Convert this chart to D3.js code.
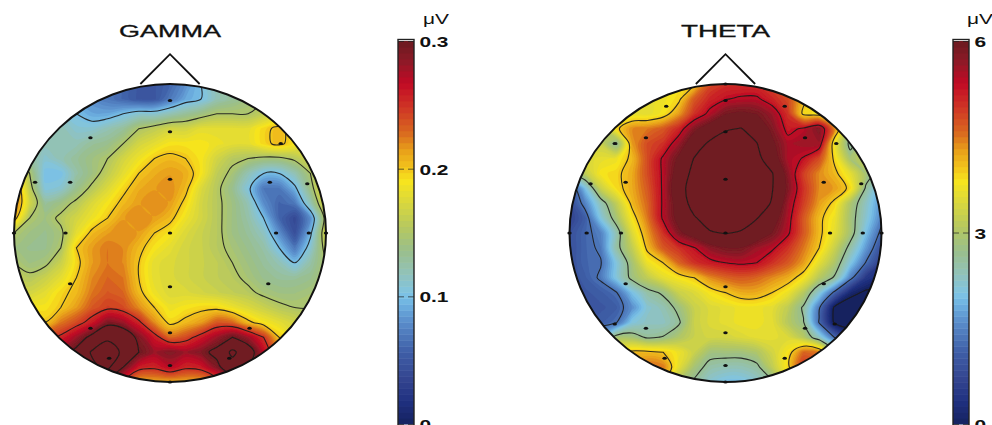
<!DOCTYPE html>
<html lang="en">

<head>
    <title>Gamma and theta topographies</title>
    <meta charset="UTF-8">
    <script src="https://cdn.jsdelivr.net/npm/d3@7"></script>
    <style>
        html, body {
            margin: 0;
            padding: 0;
            background: #fff;
            overflow: hidden;
        }

        svg {
            display: block;
        }

        text {
            font-family: "Liberation Sans", Arial, sans-serif;
            fill: #111;
        }
    </style>
</head>

<body>
    <div id="wrap"></div>
    <script>
        // amplitude, gamma in 0.01 uV, 21 x 21 over the head box
        var gammaGrid = [
            [8,8,8,8,8,8,7,6,5,5,6,8,10,12,13,14,15,16,16,16,16],
            [9,9,9,9,9,8,7,6,5,5,7,9,10,12,13,14,15,16,16,17,17],
            [11,11,11,11,10,9,9,10,11,11,12,13,14,15,15,15,16,17,17,17,17],
            [12,12,12,12,11,11,12,13,15,16,17,17,18,18,18,18,19.5,20.5,19,17,17],
            [12,12,12,12,12,13,13.5,15,17,18,19,19,19,18.5,18,18,19.5,20.5,19,17,17],
            [16,13,11,12,13,14,15,17,18.5,20,20.5,20,19,17,15.5,15,14.5,14.5,15.5,17,18],
            [21,15,10,10,12.5,14,16,18,20,21,21.5,21,19,16,14.5,12,10,10,12,15,18],
            [23,16,10.5,11,13.5,15.5,17.5,19.5,21,21.5,22,20.5,17.5,15.5,13.5,10.5,7,7,9.5,14,19],
            [23,17,13,14,15.5,17.5,19,20.5,21.5,22,21.5,19.5,17,15.5,14,12,8,6,7,12,18],
            [21,15,14,15.5,17,18.5,20,21.5,22,21.5,20.5,18.5,17,15.5,14,12.5,10,6,4,8,16],
            [15,14,13.5,14.5,18,20.5,21.5,22,21.5,20,19,17.5,16.5,15.5,14,13,11.5,8,4.5,9.5,17],
            [14,13.5,13.5,15,20,21.5,22.5,22,20.5,19,18,17,16.5,15.5,14.5,13.5,12.5,10,7,11,16],
            [15,14,14.5,16.5,19.5,21.5,22.5,22,20,18,17.5,17,16.5,16,15,14,13,12,10,12.5,15],
            [16,15.5,16.5,18,20,22,23,22.5,20,18,17.5,17,16.5,16,15.5,14.5,13.5,13,13,13.5,15],
            [17,17,18,19.5,20.5,22.5,23.5,23,20.5,18.5,17.5,17.5,17,16.5,16,15.5,14.5,14,14,14.5,15],
            [19,19,19,20,21.5,23.5,24.5,24,22,20,18.5,19,19.5,19.5,18.5,17.5,16.5,15.5,15,15,15],
            [19,20,20,22.5,24,26,29,28,25.5,22,19.5,20.5,21.5,23.5,23,20.5,19,18,17,16,15],
            [20,21,24,25.5,28,31,34,33,29,26,23,24,26,28,30,28,25,20,18,17,16],
            [22,23,26,28,31,35.5,38,34,30,28,29,28,29,31,36,32,27,22,19,18,17],
            [22,22,25,27,30,34,36,30,26,25.5,27,25.5,26,29,33,30,27,23,20,18,17],
            [22,22,24,26,28,30,30,25,21,21,21,21,21,23,26,26,25,22,20,18,17]
        ];

        // theta in uV, can pass the top of the colour bar
        var thetaGrid = [
            [3,3,3,3,3.4,3.5,3.6,3.8,4,4.8,5,5,5,4.8,4.6,4.2,3.8,3.5,3.5,3.5,3.5],
            [3,3,3,3,3.4,3.6,3.7,3.9,4.7,5.1,5.3,5.4,5.4,5.1,4.8,4.1,3.8,3.5,3.5,3.5,3.5],
            [3.2,3.2,3.2,3.2,3.6,3.6,3.8,4.3,5,5.45,5.9,6,5.9,5.6,5,3.9,3.8,3.8,3.5,3.5,3.5],
            [3,3,3,3.9,4.4,4.5,4.7,5.1,5.8,6.2,6.6,6.7,6.3,5.8,5.2,5.4,5.8,4.4,3,3,3],
            [3,3.3,3.3,2.6,4.3,4.8,5,5.6,6.3,6.8,7,6.9,6.7,6,5.5,5.6,5.6,3.7,2.5,3.3,3],
            [3,3.5,3.6,3.7,4.1,4.8,5.4,6,6.7,7.1,7.3,7.2,6.9,6.2,5.5,5.3,4.8,3.9,2.9,3.2,3],
            [2.5,3.2,3.8,3.9,4.2,4.8,5.4,6.2,6.9,7.3,7.5,7.4,7,6.7,5.7,4.9,4.4,4.1,3.6,2.9,2.5],
            [0.9,2,3.3,3.85,4.2,4.7,5.4,6.4,7,7.4,7.6,7.5,7.1,6.7,5.8,5,4.4,4.3,3.9,2.6,1.8],
            [0.8,1.5,2.4,3.2,4.1,4.6,5.4,6.2,7,7.5,7.7,7.5,7.1,6.6,5.6,4.9,4.3,3.9,3,2.3,1.6],
            [0.7,1.1,2.1,2.9,3.8,4.5,5.4,6.1,6.6,7,7.2,7,6.7,6.2,5.5,4.7,4.1,3.7,2.9,2.2,1.5],
            [0.9,1.2,1.5,2.4,3.5,4.3,5,5.8,6.2,6.6,6.7,6.6,6.3,5.9,5.4,4.7,4.1,3.6,2.9,2,1.2],
            [0.9,1.2,1.4,2.5,3.2,4.1,4.7,5,5.3,5.7,5.9,5.9,5.6,5.4,5,4.5,4,3.3,2.5,1.7,0.9],
            [0.9,1.2,1.3,2.1,2.9,3.7,4,4.6,5,5.2,5.33,5.4,5.33,5,4.7,4.3,3.6,3,2.1,1.3,0.6],
            [0.9,1.1,1.4,2.1,2.8,3.2,3.6,3.8,4,4.4,4.6,4.7,4.6,4.4,4.2,3.8,3.1,2.6,1.5,0.5,0.2],
            [0.9,1,1.1,1.3,2,2.5,2.75,3.3,3.5,3.8,4,4.2,4.2,4,3.7,3.1,2.2,1.2,0.2,-0.1,-0.1],
            [0.8,0.9,1,1.1,1.6,2.2,2.4,2.8,3.3,3.5,3.6,3.7,3.7,3.6,3.2,2.6,1.4,-0.1,-0.4,-0.4,-0.4],
            [0.8,1,1.1,1.3,2.1,2.3,2.3,2.6,3.3,3.5,3.6,3.7,3.7,3.6,3.1,2.7,1.3,-0.1,-0.4,-0.4,-0.4],
            [2,2,2,2.9,2.9,2.6,2.7,3,3.3,3.4,3.4,3.5,3.6,3.6,3.5,3.1,2.3,1.3,0.6,0.6,0.6],
            [3,3,3.2,3.8,4.1,4.1,4,3.7,3.3,2.85,2.85,2.85,3,3.4,3.8,4.6,4.5,3,2,2,2],
            [3.5,3.5,3.6,4,4.3,4.6,4.5,3.6,2.9,2.5,2.4,2.4,2.55,3.2,3.9,5,4.8,3.5,2.5,2.5,2.5],
            [3.5,3.5,3.6,3.8,4,4,3.8,3,2.6,2.2,2,2,2.2,2.6,3.5,4,3.8,3,2.5,2.5,2.5]
        ];

        var gammaLevels = [10, 15, 20, 25, 30, 35];
        var thetaLevels = [0, 1.33, 2.67, 4, 5.33, 6.67];
        var gammaTicks = [0, 0.1, 0.2, 0.3];
        var thetaTicks = [0, 3, 6];

        // electrode sites in head coordinates, -1..1
        var gammaSiteX = [0, 0, 0, 0, 0, 0, 0, 1e-9, -0.51, 0.71, -0.865, -0.64, 0.64, 0.88, -0.67, 0.68, 0.89, -1, 1, -0.64, 0.63, -0.51, 0.51, -0.39, 0.38];
        var gammaSiteY = [-0.89, -0.68, -0.36, 0, 0.36, 0.67, 0.89, 1, -0.64, -0.6, -0.34, -0.34, -0.34, -0.33, 0, 0, 0, 0, 0, 0.34, 0.34, 0.64, 0.64, 0.84, 0.84];
        var thetaSiteX = [0, 0, 0, 0, 0, 0, 0, 0, 0, -0.38, 0.38, -0.51, 0.51, -0.71, 0.71, -0.64, 0.63, -0.865, 0.87, -0.67, 0.67, -0.89, 0.88, -1, 1, -0.64, 0.63, -0.71, 0.7, -0.51, 0.51, -0.39, 0.38];
        var thetaSiteY = [-1, -0.89, -0.68, -0.36, 0, 0.36, 0.67, 0.89, 1, -0.85, -0.85, -0.64, -0.64, -0.6, -0.6, -0.34, -0.34, -0.33, -0.33, 0, 0, 0, 0, 0, 0, 0.34, 0.34, 0.61, 0.61, 0.64, 0.64, 0.84, 0.84];
        var noseX = [-0.19, 0, 0.19];
        var noseY = [-1, -1.2, -1];

        var colorStops = [0, 0.06, 0.12, 0.19, 0.27, 0.315, 0.34, 0.395, 0.455, 0.515, 0.585, 0.635, 0.67, 0.715, 0.76, 0.82, 0.89, 0.95, 1];
        var colorValues = ['#15225f', '#1f3080', '#344590', '#3f5fa8', '#5b8fcc', '#6fb3e2', '#7fc4e4', '#92c2b8', '#9abf8a', '#b6c85f', '#dcd93a', '#f7e41e', '#f2c41c', '#e8a01a', '#d96a1f', '#d03a25', '#c20a25', '#8b1a27', '#6b1a20'];

        var WIDTH = 992,
            HEIGHT = 425,
            BANDS = 64,
            RX = 156,
            RY = 149,
            CY = 233;

        var color = d3.scaleLinear().domain(colorStops).range(colorValues).clamp(true);

        var svg = d3.select('#wrap').append('svg').attr('width', WIDTH).attr('height', HEIGHT);
        var defs = svg.append('defs');

        defs.append('filter').attr('id', 'soft')
            .append('feGaussianBlur').attr('stdDeviation', 0.5);

        drawHead('gamma', 'GAMMA', gammaGrid, 30, gammaLevels, gammaSiteX, gammaSiteY, 170, 102);
        drawHead('theta', 'THETA', thetaGrid, 6, thetaLevels, thetaSiteX, thetaSiteY, 725.5, 89);
        drawBar(398, gammaTicks, 0.3, function(d) { return d ? d3.format('.1f')(d) : '0'; }, 423);
        drawBar(953, thetaTicks, 6, d3.format('d'), 967);

        function drawHead(id, title, grid, maxValue, levels, siteX, siteY, cx, titleWidth) {
            var x = d3.scaleLinear().domain([-1, 1]).range([cx - RX, cx + RX]);
            var y = d3.scaleLinear().domain([-1, 1]).range([CY - RY, CY + RY]);
            var col = d3.scaleLinear().domain([0.5, grid[0].length - 0.5]).range(x.range());
            var row = d3.scaleLinear().domain([0.5, grid.length - 0.5]).range(y.range());
            var flat = d3.merge(grid);

            var ring = d3.line()
                .x(function(d) { return col(d[0]); })
                .y(function(d) { return row(d[1]); })
                .curve(d3.curveCatmullRomClosed);

            function shapePath(shape) {
                return shape.coordinates.map(function(polygon) {
                    return polygon.map(function(r) { return ring(r.slice(0, -1)); }).join('');
                }).join('');
            }

            var contours = d3.contours().size([grid[0].length, grid.length]);

            defs.append('clipPath').attr('id', 'clip-' + id)
                .append('ellipse')
                .attr('cx', cx).attr('cy', CY).attr('rx', RX).attr('ry', RY);

            var g = svg.append('g').attr('class', id);
            var inner = g.append('g').attr('clip-path', 'url(#clip-' + id + ')')
                .append('g').attr('filter', 'url(#soft)');

            inner.append('rect')
                .attr('x', cx - RX).attr('y', CY - RY)
                .attr('width', RX * 2).attr('height', RY * 2)
                .attr('fill', color(0));

            // filled bands, one per step of the colour bar
            var thresholds = d3.range(1, BANDS).map(function(i) { return i / BANDS * maxValue; });
            inner.selectAll('path.band')
                .data(contours.thresholds(thresholds)(flat))
                .enter()
                .append('path')
                .attr('class', 'band')
                .attr('fill-rule', 'evenodd')
                .attr('fill', function(d) { return color(d.value / maxValue + 0.5 / BANDS); })
                .attr('d', shapePath);

            // iso lines
            inner.selectAll('path.iso')
                .data(contours.thresholds(levels)(flat))
                .enter()
                .append('path')
                .attr('class', 'iso')
                .attr('fill', 'none')
                .attr('stroke', '#1c1c1c')
                .attr('stroke-opacity', 0.9)
                .attr('stroke-width', 1.1)
                .attr('d', shapePath);

            // electrodes
            g.selectAll('ellipse.site')
                .data(siteX)
                .enter()
                .append('ellipse')
                .attr('class', 'site')
                .attr('cx', function(d) { return x(d); })
                .attr('cy', function(d, i) { return y(siteY[i]); })
                .attr('rx', 2.2)
                .attr('ry', 1.5)
                .attr('fill', '#111');

            g.append('ellipse')
                .attr('cx', cx).attr('cy', CY).attr('rx', RX).attr('ry', RY)
                .attr('fill', 'none').attr('stroke', '#111').attr('stroke-width', 2);

            var nose = d3.line()
                .x(function(d) { return x(d); })
                .y(function(d, i) { return y(noseY[i]); });
            g.append('path')
                .attr('d', nose(noseX))
                .attr('fill', 'none').attr('stroke', '#111').attr('stroke-width', 1.8);

            g.append('text')
                .attr('x', cx - titleWidth / 2)
                .attr('y', 37)
                .attr('font-size', 16)
                .attr('textLength', titleWidth)
                .attr('lengthAdjust', 'spacingAndGlyphs')
                .attr('stroke', '#111')
                .attr('stroke-width', 0.3)
                .text(title);
        }

        function drawBar(left, ticks, maxValue, format, unitX) {
            var BARW = 16;
            var y = d3.scaleLinear().domain([0, maxValue]).range([424, 41]);
            var g = svg.append('g').attr('class', 'bar');

            g.selectAll('rect')
                .data(d3.range(BANDS))
                .enter()
                .append('rect')
                .attr('x', left)
                .attr('width', BARW)
                .attr('y', function(d) { return y((d + 1) / BANDS * maxValue); })
                .attr('height', function(d) { return y(d / BANDS * maxValue) - y((d + 1) / BANDS * maxValue) + 0.5; })
                .attr('fill', function(d) { return color((d + 0.5) / BANDS); });

            g.append('rect')
                .attr('x', left).attr('y', 39.5)
                .attr('width', BARW).attr('height', 400)
                .attr('fill', 'none').attr('stroke', '#222').attr('stroke-width', 1.4);

            var axis = d3.axisRight(y)
                .tickValues(ticks)
                .tickFormat(format)
                .tickSizeInner(-BARW)
                .tickSizeOuter(0);

            var a = g.append('g').attr('transform', 'translate(' + (left + BARW) + ',0)').call(axis);
            a.select('.domain').remove();
            a.selectAll('line').attr('stroke', '#222').attr('stroke-opacity', 0.7).attr('stroke-dasharray', '6,4');
            a.selectAll('text')
                .attr('x', 4)
                .attr('font-size', 15.5)
                .attr('font-weight', 'bold')
                .attr('font-family', '"Liberation Sans", Arial, sans-serif')
                .attr('fill', '#111')
                .attr('transform', 'scale(1.35,1)')
                .attr('dy', '0.36em');

            g.append('text')
                .attr('x', unitX)
                .attr('y', 24)
                .attr('font-size', 15)
                .attr('textLength', 26)
                .attr('lengthAdjust', 'spacingAndGlyphs')
                .text('\u03bcV');
        }
    </script>
</body>

</html>
